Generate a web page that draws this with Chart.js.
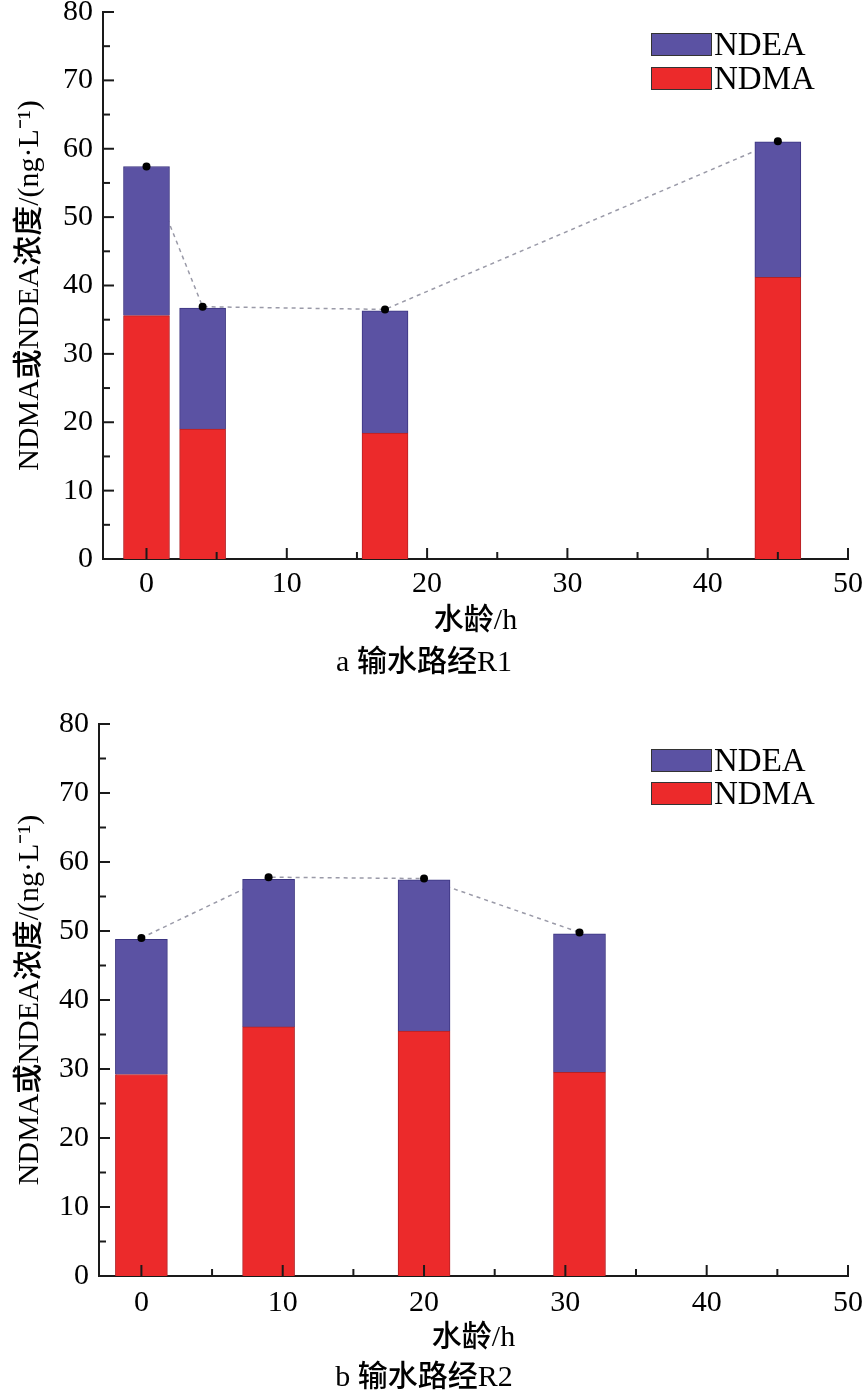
<!DOCTYPE html>
<html lang="zh">

<head>
    <meta charset="UTF-8" />
    <title>NDMA / NDEA 浓度随水龄变化</title>
    <script src="https://cdn.jsdelivr.net/npm/chart.js@4.4.1/dist/chart.umd.min.js"></script>
    <style>
        body { margin: 0; background: #fff; }
        canvas { display: block; }
    </style>
</head>

<body>
    <canvas id="chartR1" width="865" height="698"></canvas>
    <canvas id="chartR2" width="865" height="696"></canvas>

    <script>
        // route R1
        const hoursR1 = [0, 4, 17, 45];
        const ndmaR1 = [35.6, 19.0, 18.4, 41.2];
        const ndeaR1 = [21.8, 17.7, 17.9, 19.8];
        const totalR1 = [57.4, 36.9, 36.5, 61.1];

        // route R2
        const hoursR2 = [0, 9, 20, 31];
        const ndmaR2 = [29.2, 36.1, 35.5, 29.5];
        const ndeaR2 = [19.6, 21.4, 21.9, 20.1];
        const totalR2 = [49.0, 57.8, 57.6, 49.8];

        // axis ticks
        const xTicks = [0, 10, 20, 30, 40, 50];
        const yTicks = [0, 10, 20, 30, 40, 50, 60, 70, 80];

        const serif = "'Liberation Serif', 'Times New Roman', 'Noto Sans CJK SC', serif";
        const NDEA_COLOR = '#5b52a3';
        const NDMA_COLOR = '#ec2a2b';

        // tick marks pointing into the plot, major + minor
        const inwardTicks = {
            id: 'inwardTicks',
            afterDraw(chart) {
                const { ctx, scales: { x, y } } = chart;
                ctx.save();
                ctx.strokeStyle = '#1a1a1a';
                ctx.lineWidth = 2;
                const mark = (x1, y1, x2, y2) => {
                    ctx.beginPath();
                    ctx.moveTo(x1, y1);
                    ctx.lineTo(x2, y2);
                    ctx.stroke();
                };
                xTicks.forEach((v, i) => {
                    const px = x.getPixelForValue(v);
                    mark(px, y.bottom, px, y.bottom - 11);
                    if (i < xTicks.length - 1) {
                        const mx = x.getPixelForValue((v + xTicks[i + 1]) / 2);
                        mark(mx, y.bottom, mx, y.bottom - 7);
                    }
                });
                yTicks.forEach((v, i) => {
                    const py = y.getPixelForValue(v);
                    mark(x.left, py, x.left + 11, py);
                    if (i < yTicks.length - 1) {
                        const my = y.getPixelForValue((v + yTicks[i + 1]) / 2);
                        mark(x.left, my, x.left + 7, my);
                    }
                });
                ctx.restore();
            }
        };

        // legend drawn inside the plot, top right
        const boxLegend = {
            id: 'boxLegend',
            afterDraw(chart, args, opts) {
                const ctx = chart.ctx;
                const items = chart.data.datasets.filter(d => d.type !== 'line').reverse();
                ctx.save();
                ctx.font = '33px ' + serif;
                ctx.textBaseline = 'middle';
                items.forEach((d, i) => {
                    const top = opts.y + i * opts.rowGap;
                    ctx.fillStyle = d.backgroundColor;
                    ctx.fillRect(opts.x, top, 61, 23);
                    ctx.strokeStyle = '#333';
                    ctx.lineWidth = 1;
                    ctx.strokeRect(opts.x + 0.5, top + 0.5, 60, 22);
                    ctx.fillStyle = '#000';
                    ctx.fillText(d.label, opts.x + 63, top + 13);
                });
                ctx.restore();
            }
        };

        function makeChart(id, hours, ndma, ndea, total, cfg) {
            const ctx = document.getElementById(id).getContext('2d');
            return new Chart(ctx, {
                type: 'bar',
                data: {
                    datasets: [
                        {
                            type: 'line',
                            label: 'pts',
                            data: hours.map((h, i) => ({ x: h, y: total[i] })),
                            showLine: false,
                            pointRadius: 4,
                            pointBackgroundColor: '#000',
                            pointBorderWidth: 0,
                            stack: 'pts',
                            order: 0
                        },
                        {
                            label: 'NDMA',
                            data: hours.map((h, i) => ({ x: h, y: ndma[i] })),
                            backgroundColor: NDMA_COLOR,
                            borderColor: '#b32226',
                            borderWidth: 1,
                            barThickness: cfg.barWidth,
                            stack: 'conc',
                            order: 1
                        },
                        {
                            label: 'NDEA',
                            data: hours.map((h, i) => ({ x: h, y: ndea[i] })),
                            backgroundColor: NDEA_COLOR,
                            borderColor: '#3b3480',
                            borderWidth: 1,
                            barThickness: cfg.barWidth,
                            stack: 'conc',
                            order: 2
                        },
                        {
                            type: 'line',
                            label: 'total',
                            data: hours.map((h, i) => ({ x: h, y: total[i] })),
                            borderColor: '#9a9aa8',
                            borderWidth: 1.5,
                            borderDash: [4, 4],
                            pointRadius: 0,
                            fill: false,
                            stack: 'tot',
                            order: 3
                        }
                    ]
                },
                options: {
                    responsive: false,
                    animation: false,
                    layout: { padding: { top: cfg.top, right: 17, bottom: cfg.bottom, left: 0 } },
                    plugins: {
                        legend: { display: false },
                        tooltip: { enabled: false },
                        title: {
                            display: true,
                            position: 'bottom',
                            text: cfg.caption,
                            color: '#000',
                            font: { family: serif, size: 30, weight: 500, lineHeight: 1.0 },
                            padding: 0
                        },
                        boxLegend: cfg.legend
                    },
                    scales: {
                        x: {
                            type: 'linear',
                            min: cfg.xMin,
                            max: 50,
                            offset: false,
                            z: 1,
                            grid: { display: false, drawTicks: false },
                            border: { display: true, color: '#1a1a1a', width: 2 },
                            afterBuildTicks: s => { s.ticks = xTicks.map(v => ({ value: v })); },
                            afterFit: s => {
                                s.height = cfg.xHeight;
                                s.paddingLeft = 0;
                                s.paddingRight = 0;
                            },
                            ticks: {
                                color: '#000',
                                padding: cfg.xTickPad,
                                maxRotation: 0,
                                font: { family: serif, size: 30 }
                            },
                            title: {
                                display: true,
                                text: '水龄/h',
                                color: '#000',
                                font: { family: serif, size: 30, weight: 500, lineHeight: 1.2 },
                                padding: { top: 0, bottom: cfg.xTitlePad }
                            }
                        },
                        y: {
                            stacked: true,
                            min: 0,
                            max: 80,
                            z: 1,
                            grid: { display: false, drawTicks: false },
                            border: { display: true, color: '#1a1a1a', width: 2 },
                            afterBuildTicks: s => { s.ticks = yTicks.map(v => ({ value: v })); },
                            afterFit: s => {
                                s.width = cfg.yWidth;
                                s.paddingTop = 0;
                                s.paddingBottom = 0;
                            },
                            ticks: {
                                color: '#000',
                                padding: 10,
                                font: { family: serif, size: 30 }
                            },
                            title: {
                                display: true,
                                text: 'NDMA或NDEA浓度/(ng·L⁻¹)',
                                color: '#000',
                                font: { family: serif, size: 30, weight: 500, lineHeight: 1.2 },
                                padding: { top: 12, bottom: 0 }
                            }
                        }
                    }
                },
                plugins: [inwardTicks, boxLegend]
            });
        }

        makeChart('chartR1', hoursR1, ndmaR1, ndeaR1, totalR1, {
            caption: 'a 输水路经R1',
            barWidth: 46,
            xMin: -3.1,
            top: 12,
            bottom: 20,
            xHeight: 89,
            xTickPad: 7,
            xTitlePad: 9,
            yWidth: 103,
            legend: { x: 651, y: 33, rowGap: 34 }
        });

        makeChart('chartR2', hoursR2, ndmaR2, ndeaR2, totalR2, {
            caption: 'b 输水路经R2',
            barWidth: 52,
            xMin: -3.0,
            top: 26,
            bottom: 1,
            xHeight: 87,
            xTickPad: 9,
            xTitlePad: 7,
            yWidth: 99,
            legend: { x: 651, y: 51, rowGap: 33 }
        });
    </script>
</body>

</html>
